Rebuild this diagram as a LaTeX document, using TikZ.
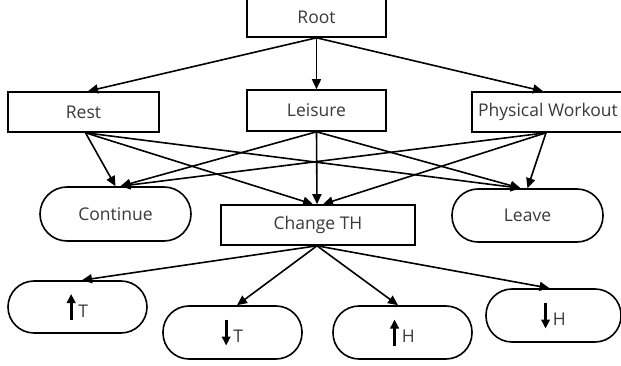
\documentclass[tikz,border=0pt]{standalone}
\usepackage{fontspec}
\setmainfont{Open Sans}
\usetikzlibrary{arrows.meta}
\definecolor{txt}{HTML}{3A3A3A}
\newsavebox\upbox
\newsavebox\downbox
\sbox\upbox{\tikz\draw[line width=2.8pt,-{Triangle[length=9pt,width=8.5pt]}] (0,0)--(0,26pt);}
\sbox\downbox{\tikz\draw[line width=2.8pt,-{Triangle[length=9pt,width=8.5pt]}] (0,26pt)--(0,0);}
\newcommand{\upsym}[1]{\raisebox{-4pt}{\usebox\upbox}\hspace{3pt}#1\hspace{13pt}}
\newcommand{\downsym}[1]{\raisebox{-4pt}{\usebox\downbox}\hspace{3pt}#1\hspace{13pt}}
\begin{document}
\begin{tikzpicture}[x=1pt,y=-1pt,
  every node/.style={font=\fontsize{17.5}{20}\selectfont, text=txt, inner sep=0pt},
  box/.style={draw=black, line width=1.6pt, fill=white, minimum height=40pt},
  pill/.style={draw=black, line width=1.6pt, fill=white, minimum width=139pt, minimum height=53pt, rounded corners=26pt},
  link/.style={draw=black, line width=1.6pt, -{Triangle[length=10pt,width=9pt]}}
]
\useasboundingbox (0,0) rectangle (621,366);
% nodes
\node[box, minimum width=139pt] (root) at (316.5,17) {Root};
\node[box, minimum width=151pt] (rest) at (83.5,112) {Rest};
\node[box, minimum width=139pt, minimum height=41pt] (leis) at (316.5,110.5) {Leisure};
\node[box, minimum width=152pt] (pw) at (548,112) {Physical Workout};
\node[pill, minimum width=151pt, minimum height=54pt, rounded corners=27pt] (cont) at (115.5,214) {Continue};
\node[box, minimum width=194pt] (chg) at (318,225) {Change TH};
\node[pill, minimum width=151pt] (leave) at (527.5,215.5) {Leave};
\node[pill, minimum height=52pt] (ut) at (77.5,307) {\upsym{T}};
\node[pill] (dt) at (232.5,332.5) {\downsym{T}};
\node[pill] (uh) at (402.5,332.5) {\upsym{H}};
\node[pill, minimum width=135pt] (dh) at (553.5,315.5) {\downsym{H}};
% root edges
\draw[link] (root.south) -- ([xshift=4.5pt]rest.north);
\draw[link] (root.south) -- (leis.north);
\draw[link] (root.south) -- ([xshift=-5pt]pw.north);
% second layer edges
\draw[link] ([xshift=2pt]rest.south) -- (cont.north);
\draw[link] ([xshift=2pt]rest.south) -- ([xshift=-5pt]chg.north);
\draw[link] ([xshift=2pt]rest.south) -- ([xshift=-7pt]leave.north);
\draw[link] (leis.south) -- ([xshift=5pt]cont.north);
\draw[link] (leis.south) -- ([xshift=-1pt]chg.north);
\draw[link] (leis.south) -- ([xshift=-7pt]leave.north);
\draw[link] ([xshift=-2pt]pw.south) -- ([xshift=5pt]cont.north);
\draw[link] ([xshift=-2pt]pw.south) -- ([xshift=5pt]chg.north);
\draw[link] ([xshift=-2pt]pw.south) -- (leave.north);
% change TH edges
\draw[link] ([xshift=-1pt]chg.south) -- ([xshift=4.5pt]ut.north);
\draw[link] ([xshift=-1pt]chg.south) -- ([xshift=4.5pt]dt.north);
\draw[link] ([xshift=-1pt]chg.south) -- ([xshift=-4.5pt]uh.north);
\draw[link] ([xshift=-1pt]chg.south) -- ([xshift=-4pt]dh.north);
\end{tikzpicture}
\end{document}
